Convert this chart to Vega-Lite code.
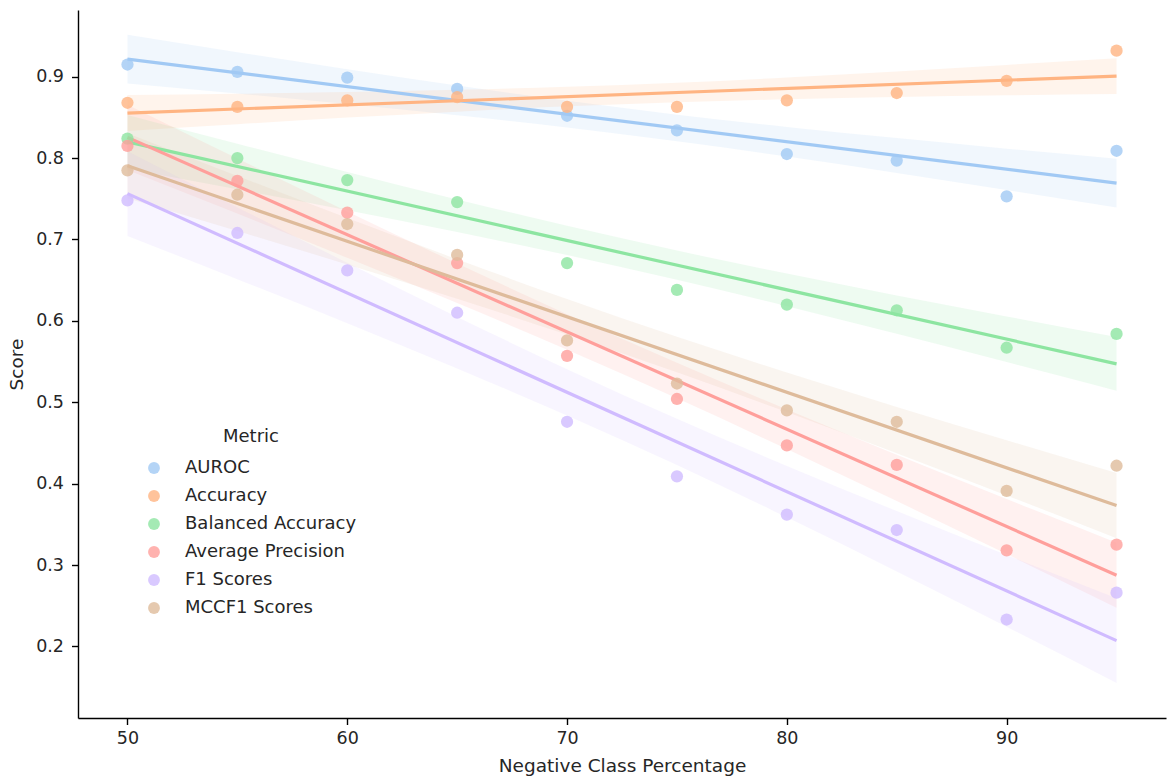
{
  "$schema": "https://vega.github.io/schema/vega-lite/v6.json",
  "autosize": {"type": "none"},
  "padding": {"left": 78, "top": 10, "right": 3, "bottom": 62},
  "width": 1088,
  "height": 708,
  "background": "white",
  "config": {
    "view": {"stroke": null},
    "font": "DejaVu Sans"
  },
  "datasets": {
    "pts": [
      {"x": 50, "Metric": "AUROC", "Score": 0.915},
      {"x": 55, "Metric": "AUROC", "Score": 0.906},
      {"x": 60, "Metric": "AUROC", "Score": 0.899},
      {"x": 65, "Metric": "AUROC", "Score": 0.885},
      {"x": 70, "Metric": "AUROC", "Score": 0.852},
      {"x": 75, "Metric": "AUROC", "Score": 0.834},
      {"x": 80, "Metric": "AUROC", "Score": 0.805},
      {"x": 85, "Metric": "AUROC", "Score": 0.797},
      {"x": 90, "Metric": "AUROC", "Score": 0.753},
      {"x": 95, "Metric": "AUROC", "Score": 0.809},
      {"x": 50, "Metric": "Accuracy", "Score": 0.868},
      {"x": 55, "Metric": "Accuracy", "Score": 0.863},
      {"x": 60, "Metric": "Accuracy", "Score": 0.871},
      {"x": 65, "Metric": "Accuracy", "Score": 0.875},
      {"x": 70, "Metric": "Accuracy", "Score": 0.863},
      {"x": 75, "Metric": "Accuracy", "Score": 0.863},
      {"x": 80, "Metric": "Accuracy", "Score": 0.871},
      {"x": 85, "Metric": "Accuracy", "Score": 0.880},
      {"x": 90, "Metric": "Accuracy", "Score": 0.895},
      {"x": 95, "Metric": "Accuracy", "Score": 0.932},
      {"x": 50, "Metric": "Balanced Accuracy", "Score": 0.824},
      {"x": 55, "Metric": "Balanced Accuracy", "Score": 0.800},
      {"x": 60, "Metric": "Balanced Accuracy", "Score": 0.773},
      {"x": 65, "Metric": "Balanced Accuracy", "Score": 0.746},
      {"x": 70, "Metric": "Balanced Accuracy", "Score": 0.671},
      {"x": 75, "Metric": "Balanced Accuracy", "Score": 0.638},
      {"x": 80, "Metric": "Balanced Accuracy", "Score": 0.620},
      {"x": 85, "Metric": "Balanced Accuracy", "Score": 0.613},
      {"x": 90, "Metric": "Balanced Accuracy", "Score": 0.567},
      {"x": 95, "Metric": "Balanced Accuracy", "Score": 0.584},
      {"x": 50, "Metric": "Average Precision", "Score": 0.815},
      {"x": 55, "Metric": "Average Precision", "Score": 0.772},
      {"x": 60, "Metric": "Average Precision", "Score": 0.733},
      {"x": 65, "Metric": "Average Precision", "Score": 0.671},
      {"x": 70, "Metric": "Average Precision", "Score": 0.557},
      {"x": 75, "Metric": "Average Precision", "Score": 0.504},
      {"x": 80, "Metric": "Average Precision", "Score": 0.447},
      {"x": 85, "Metric": "Average Precision", "Score": 0.423},
      {"x": 90, "Metric": "Average Precision", "Score": 0.318},
      {"x": 95, "Metric": "Average Precision", "Score": 0.325},
      {"x": 50, "Metric": "F1 Scores", "Score": 0.748},
      {"x": 55, "Metric": "F1 Scores", "Score": 0.708},
      {"x": 60, "Metric": "F1 Scores", "Score": 0.662},
      {"x": 65, "Metric": "F1 Scores", "Score": 0.610},
      {"x": 70, "Metric": "F1 Scores", "Score": 0.476},
      {"x": 75, "Metric": "F1 Scores", "Score": 0.409},
      {"x": 80, "Metric": "F1 Scores", "Score": 0.362},
      {"x": 85, "Metric": "F1 Scores", "Score": 0.343},
      {"x": 90, "Metric": "F1 Scores", "Score": 0.233},
      {"x": 95, "Metric": "F1 Scores", "Score": 0.266},
      {"x": 50, "Metric": "MCCF1 Scores", "Score": 0.785},
      {"x": 55, "Metric": "MCCF1 Scores", "Score": 0.755},
      {"x": 60, "Metric": "MCCF1 Scores", "Score": 0.719},
      {"x": 65, "Metric": "MCCF1 Scores", "Score": 0.681},
      {"x": 70, "Metric": "MCCF1 Scores", "Score": 0.576},
      {"x": 75, "Metric": "MCCF1 Scores", "Score": 0.523},
      {"x": 80, "Metric": "MCCF1 Scores", "Score": 0.490},
      {"x": 85, "Metric": "MCCF1 Scores", "Score": 0.476},
      {"x": 90, "Metric": "MCCF1 Scores", "Score": 0.391},
      {"x": 95, "Metric": "MCCF1 Scores", "Score": 0.422}
    ],
    "band": [
      {"x": 50, "Metric": "AUROC", "lo": 0.8917, "hi": 0.9517},
      {"x": 55, "Metric": "AUROC", "lo": 0.8794, "hi": 0.9302},
      {"x": 60, "Metric": "AUROC", "lo": 0.8664, "hi": 0.9092},
      {"x": 65, "Metric": "AUROC", "lo": 0.8527, "hi": 0.8891},
      {"x": 70, "Metric": "AUROC", "lo": 0.8376, "hi": 0.8704},
      {"x": 75, "Metric": "AUROC", "lo": 0.8206, "hi": 0.8534},
      {"x": 80, "Metric": "AUROC", "lo": 0.8019, "hi": 0.8383},
      {"x": 85, "Metric": "AUROC", "lo": 0.7818, "hi": 0.8246},
      {"x": 90, "Metric": "AUROC", "lo": 0.7608, "hi": 0.8116},
      {"x": 95, "Metric": "AUROC", "lo": 0.7393, "hi": 0.7993},
      {"x": 50, "Metric": "Accuracy", "lo": 0.8334, "hi": 0.8774},
      {"x": 55, "Metric": "Accuracy", "lo": 0.8417, "hi": 0.8791},
      {"x": 60, "Metric": "Accuracy", "lo": 0.8498, "hi": 0.8812},
      {"x": 65, "Metric": "Accuracy", "lo": 0.8571, "hi": 0.8839},
      {"x": 70, "Metric": "Accuracy", "lo": 0.8636, "hi": 0.8876},
      {"x": 75, "Metric": "Accuracy", "lo": 0.8686, "hi": 0.8926},
      {"x": 80, "Metric": "Accuracy", "lo": 0.8723, "hi": 0.8991},
      {"x": 85, "Metric": "Accuracy", "lo": 0.8750, "hi": 0.9064},
      {"x": 90, "Metric": "Accuracy", "lo": 0.8771, "hi": 0.9145},
      {"x": 95, "Metric": "Accuracy", "lo": 0.8788, "hi": 0.9228},
      {"x": 50, "Metric": "Balanced Accuracy", "lo": 0.787, "hi": 0.853},
      {"x": 55, "Metric": "Balanced Accuracy", "lo": 0.7617, "hi": 0.8177},
      {"x": 60, "Metric": "Balanced Accuracy", "lo": 0.7359, "hi": 0.7829},
      {"x": 65, "Metric": "Balanced Accuracy", "lo": 0.7091, "hi": 0.7491},
      {"x": 70, "Metric": "Balanced Accuracy", "lo": 0.6808, "hi": 0.7168},
      {"x": 75, "Metric": "Balanced Accuracy", "lo": 0.6504, "hi": 0.6864},
      {"x": 80, "Metric": "Balanced Accuracy", "lo": 0.6181, "hi": 0.6581},
      {"x": 85, "Metric": "Balanced Accuracy", "lo": 0.5843, "hi": 0.6313},
      {"x": 90, "Metric": "Balanced Accuracy", "lo": 0.5495, "hi": 0.6055},
      {"x": 95, "Metric": "Balanced Accuracy", "lo": 0.5142, "hi": 0.5802},
      {"x": 50, "Metric": "Average Precision", "lo": 0.7855, "hi": 0.8655},
      {"x": 55, "Metric": "Average Precision", "lo": 0.7318, "hi": 0.7996},
      {"x": 60, "Metric": "Average Precision", "lo": 0.6775, "hi": 0.7345},
      {"x": 65, "Metric": "Average Precision", "lo": 0.6219, "hi": 0.6705},
      {"x": 70, "Metric": "Average Precision", "lo": 0.5646, "hi": 0.6082},
      {"x": 75, "Metric": "Average Precision", "lo": 0.5048, "hi": 0.5484},
      {"x": 80, "Metric": "Average Precision", "lo": 0.4425, "hi": 0.4911},
      {"x": 85, "Metric": "Average Precision", "lo": 0.3785, "hi": 0.4355},
      {"x": 90, "Metric": "Average Precision", "lo": 0.3134, "hi": 0.3812},
      {"x": 95, "Metric": "Average Precision", "lo": 0.2475, "hi": 0.3275},
      {"x": 50, "Metric": "F1 Scores", "lo": 0.7043, "hi": 0.8083},
      {"x": 55, "Metric": "F1 Scores", "lo": 0.6512, "hi": 0.7394},
      {"x": 60, "Metric": "F1 Scores", "lo": 0.5972, "hi": 0.6714},
      {"x": 65, "Metric": "F1 Scores", "lo": 0.5416, "hi": 0.6048},
      {"x": 70, "Metric": "F1 Scores", "lo": 0.4838, "hi": 0.5406},
      {"x": 75, "Metric": "F1 Scores", "lo": 0.4228, "hi": 0.4796},
      {"x": 80, "Metric": "F1 Scores", "lo": 0.3586, "hi": 0.4218},
      {"x": 85, "Metric": "F1 Scores", "lo": 0.2921, "hi": 0.3663},
      {"x": 90, "Metric": "F1 Scores", "lo": 0.2240, "hi": 0.3122},
      {"x": 95, "Metric": "F1 Scores", "lo": 0.1551, "hi": 0.2591},
      {"x": 50, "Metric": "MCCF1 Scores", "lo": 0.7506, "hi": 0.8306},
      {"x": 55, "Metric": "MCCF1 Scores", "lo": 0.7103, "hi": 0.7781},
      {"x": 60, "Metric": "MCCF1 Scores", "lo": 0.6693, "hi": 0.7263},
      {"x": 65, "Metric": "MCCF1 Scores", "lo": 0.6271, "hi": 0.6757},
      {"x": 70, "Metric": "MCCF1 Scores", "lo": 0.5832, "hi": 0.6268},
      {"x": 75, "Metric": "MCCF1 Scores", "lo": 0.5368, "hi": 0.5804},
      {"x": 80, "Metric": "MCCF1 Scores", "lo": 0.4879, "hi": 0.5365},
      {"x": 85, "Metric": "MCCF1 Scores", "lo": 0.4373, "hi": 0.4943},
      {"x": 90, "Metric": "MCCF1 Scores", "lo": 0.3855, "hi": 0.4533},
      {"x": 95, "Metric": "MCCF1 Scores", "lo": 0.3330, "hi": 0.4130}
    ]
  },
  "layer": [
    {
      "data": {"name": "band"},
      "mark": {"type": "area", "opacity": 0.15, "interpolate": "monotone"},
      "encoding": {
        "x": {"field": "x", "type": "quantitative", "scale": {"domain": [47.75, 97.25], "nice": false, "zero": false},
              "axis": {"title": "Negative Class Percentage", "values": [50, 60, 70, 80, 90], "grid": false,
                       "domainColor": "#000000", "domainWidth": 1.4, "tickColor": "#000000", "tickSize": 6.5, "tickWidth": 1.4,
                       "labelFont": "DejaVu Sans", "labelFontSize": 17.5, "labelColor": "#262626", "labelPadding": 5,
                       "titleFont": "DejaVu Sans", "titleFontSize": 18.5, "titleFontWeight": "normal", "titleColor": "#262626", "titlePadding": 9}},
        "y": {"field": "lo", "type": "quantitative", "scale": {"domain": [0.112, 0.982], "nice": false, "zero": false},
              "axis": {"title": "Score", "values": [0.2, 0.3, 0.4, 0.5, 0.6, 0.7, 0.8, 0.9], "format": ".1f", "grid": false,
                       "domainColor": "#000000", "domainWidth": 1.4, "tickColor": "#000000", "tickSize": 6.5, "tickWidth": 1.4,
                       "labelFont": "DejaVu Sans", "labelFontSize": 17.5, "labelColor": "#262626", "labelPadding": 8,
                       "titleFont": "DejaVu Sans", "titleFontSize": 18.5, "titleFontWeight": "normal", "titleColor": "#262626", "titlePadding": 9}},
        "y2": {"field": "hi"},
        "color": {"field": "Metric", "type": "nominal",
                  "scale": {"domain": ["AUROC", "Accuracy", "Balanced Accuracy", "Average Precision", "F1 Scores", "MCCF1 Scores"],
                            "range": ["#a1c9f4", "#ffb482", "#8de5a1", "#ff9f9b", "#d0bbff", "#debb9b"]},
                  "legend": {"orient": "none", "legendX": 67, "legendY": 418, "title": "Metric",
                             "titleFontSize": 18, "titleFontWeight": "normal", "titleColor": "#262626", "titleAnchor": "middle", "titlePadding": 13,
                             "labelFontSize": 18, "labelColor": "#262626", "labelFont": "DejaVu Sans", "titleFont": "DejaVu Sans", "labelLimit": 400,
                             "symbolType": "circle", "symbolSize": 140, "symbolOpacity": 0.8, "symbolStrokeWidth": 0,
                             "rowPadding": 10, "labelOffset": 22}}
      }
    },
    {
      "data": {"name": "pts"},
      "transform": [{"regression": "Score", "on": "x", "groupby": ["Metric"], "extent": [50, 95]}],
      "mark": {"type": "line", "strokeWidth": 3.2},
      "encoding": {
        "x": {"field": "x", "type": "quantitative"},
        "y": {"field": "Score", "type": "quantitative"},
        "color": {"field": "Metric", "type": "nominal"}
      }
    },
    {
      "data": {"name": "pts"},
      "mark": {"type": "point", "filled": true, "opacity": 0.8, "size": 150, "shape": "circle"},
      "encoding": {
        "x": {"field": "x", "type": "quantitative"},
        "y": {"field": "Score", "type": "quantitative"},
        "color": {"field": "Metric", "type": "nominal"}
      }
    }
  ]
}
